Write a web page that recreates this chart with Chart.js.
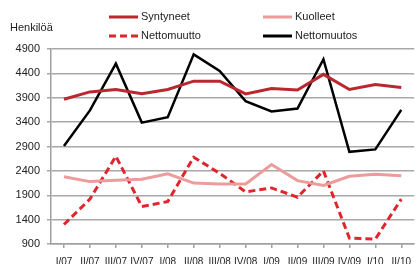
<!DOCTYPE html>
<html>
<head>
<meta charset="utf-8">
<script src="https://cdn.jsdelivr.net/npm/chart.js@4/dist/chart.umd.min.js"></script>
<style>
  html, body { margin: 0; padding: 0; background: #fff; overflow: hidden; }
  canvas { display: block; }
</style>
</head>
<body>
<canvas id="myLineChart" width="419" height="264"></canvas>
<script>
// 四半期ラベル
var quarters = ["I/07", "II/07", "III/07", "IV/07", "I/08", "II/08", "III/08", "IV/08",
                "I/09", "II/09", "III/09", "IV/09", "I/10", "II/10"];
// 系列データ
var syntyneet   = [3870, 4020, 4070, 3980, 4070, 4240, 4240, 3980, 4090, 4060, 4380, 4070, 4170, 4110];
var kuolleet    = [2280, 2180, 2210, 2230, 2340, 2150, 2130, 2130, 2530, 2200, 2100, 2290, 2330, 2300];
var nettomuutto = [1300, 1820, 2700, 1670, 1770, 2680, 2350, 1970, 2050, 1860, 2400, 1020, 1000, 1820];
var nettomuutos = [2910, 3640, 4600, 3390, 3500, 4790, 4450, 3830, 3620, 3680, 4690, 2790, 2840, 3650];
// 目盛り
var yMin = 900, yMax = 4900, yStep = 500;

var font = "'Liberation Sans', Arial, sans-serif";

// 凡例とタイトルを手書きするプラグイン
var legendItems = [
  { label: "Syntyneet",   color: "#b8282e", dash: [],     x: 109, y: 17 },
  { label: "Kuolleet",    color: "#ec9c9c", dash: [],     x: 263, y: 17 },
  { label: "Nettomuutto", color: "#e0262c", dash: [7, 4], x: 109, y: 36 },
  { label: "Nettomuutos", color: "#000000", dash: [],     x: 263, y: 36 }
];
var customLegend = {
  id: "customLegend",
  afterDraw: function (chart) {
    var c = chart.ctx;
    c.save();
    c.font = "11px " + font;
    c.fillStyle = "#222";
    c.textBaseline = "middle";
    c.fillText("Henkilöä", 10, 28);
    legendItems.forEach(function (it) {
      c.beginPath();
      c.setLineDash(it.dash);
      c.strokeStyle = it.color;
      c.lineWidth = 3;
      c.moveTo(it.x, it.y);
      c.lineTo(it.x + 29, it.y);
      c.stroke();
      c.setLineDash([]);
      c.fillText(it.label, it.x + 32, it.y);
    });
    c.restore();
  }
};

var ctx = document.getElementById("myLineChart");
var myLineChart = new Chart(ctx, {
  type: 'line',
  data: {
    labels: quarters,
    datasets: [
      { label: "Syntyneet", data: syntyneet, borderColor: "#b8282e", borderWidth: 3 },
      { label: "Kuolleet", data: kuolleet, borderColor: "#ec9c9c", borderWidth: 3 },
      { label: "Nettomuutto", data: nettomuutto, borderColor: "#e0262c", borderWidth: 3, borderDash: [7, 4] },
      { label: "Nettomuutos", data: nettomuutos, borderColor: "#000000", borderWidth: 2.5 }
    ]
  },
  options: {
    responsive: false,
    animation: false,
    elements: { point: { radius: 0 }, line: { tension: 0, fill: false } },
    layout: { padding: { top: 49, left: 0, right: 0, bottom: 0 } },
    plugins: { legend: { display: false }, tooltip: { enabled: false } },
    scales: {
      x: {
        offset: true,
        grid: { drawOnChartArea: false, drawTicks: true, tickLength: 4, color: "#a0a0a0", lineWidth: 1.5 },
        border: { color: "#a0a0a0", width: 1.5 },
        ticks: { font: { family: font, size: 10 }, color: "#222", padding: 8, maxRotation: 0, autoSkip: false },
        afterFit: function (s) { s.height = 20; }
      },
      y: {
        min: yMin,
        max: yMax,
        grid: { color: "#a8a8a8", lineWidth: 1.5, tickLength: 4 },
        border: { color: "#a0a0a0", width: 1.5 },
        ticks: {
          stepSize: yStep, font: { family: font, size: 11 }, color: "#222", padding: 7,
          callback: function (v) { return String(v); }
        },
        afterFit: function (s) { s.width = 51; }
      }
    }
  },
  plugins: [customLegend]
});
</script>
</body>
</html>
